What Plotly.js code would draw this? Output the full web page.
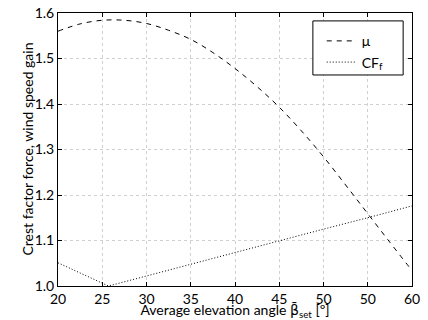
<!DOCTYPE html>
<html>
<head>
<meta charset="utf-8">
<script src="https://cdn.plot.ly/plotly-3.0.1.min.js"></script>
<style>html,body{margin:0;padding:0;background:#fff;}#chart{width:428px;height:320px;}</style>
</head>
<body>
<div id="chart"></div>
<script>
const muX = [20, 22.5, 25, 27.5, 30, 32.5, 35, 37.5, 40, 42.5, 45, 47.5, 50, 52.5, 55, 57.5, 60];
const muY = [1.560, 1.576, 1.584, 1.584, 1.577, 1.562, 1.542, 1.513, 1.478, 1.438, 1.393, 1.341, 1.284, 1.222, 1.159, 1.096, 1.034];
const cfX = [20, 25.7, 30, 35, 40, 45, 50, 55, 60];
const cfY = [1.051, 1.000, 1.022, 1.048, 1.073, 1.099, 1.125, 1.150, 1.176];
const xTickVals = [20, 25, 30, 35, 40, 45, 50, 55, 60];
const xTickText = ['20', '25', '30', '35', '40', '45', '50', '50', '60'];
const yTickVals = [1.0, 1.1, 1.2, 1.3, 1.4, 1.5, 1.6];
const yTickText = ['1.0', '1.1', '1.2', '1.3', '1.4', '1.5', '1.6'];

const fam = 'Lato, "Noto Sans", sans-serif';
const font = {family: fam, size: 14, color: '#000'};

const traces = [
  {x: muX, y: muY, mode: 'lines', name: 'μ', line: {color: '#000', width: 1, dash: '5px,5px', shape: 'spline'}},
  {x: cfX, y: cfY, mode: 'lines', name: 'CF<sub>f</sub>', line: {color: '#000', width: 1, dash: '1px,2px'}}
];

const axisCommon = {
  showline: true, linecolor: '#000', linewidth: 1, mirror: 'ticks',
  ticks: 'inside', ticklen: 4, tickcolor: '#000', tickwidth: 1,
  showgrid: true, gridcolor: '#d0d0d0', griddash: 'dot', gridwidth: 1,
  zeroline: false, tickfont: font
};

const layout = {
  width: 428, height: 320,
  margin: {l: 58, r: 16, t: 13, b: 34},
  paper_bgcolor: '#fff', plot_bgcolor: '#fff',
  font: font,
  showlegend: true,
  legend: {
    x: 0.745, y: 0.955, xanchor: 'left', yanchor: 'top',
    borderwidth: 0, bgcolor: 'rgba(0,0,0,0)',
    font: {family: fam, size: 14, color: '#000'},
    tracegroupgap: 0
  },
  shapes: [{
    type: 'rect', xref: 'paper', yref: 'paper',
    x0: 0.720, x1: 0.975, y0: 0.773, y1: 0.971,
    line: {color: '#000', width: 1}, fillcolor: '#fff', layer: 'above'
  }],
  annotations: [{
    text: 'Crest factor force, wind speed gain', textangle: -90,
    xref: 'paper', yref: 'paper', x: 0, y: 0.5, xanchor: 'center', yanchor: 'middle',
    xshift: -31, showarrow: false, font: font
  }],
  xaxis: Object.assign({}, axisCommon, {
    range: [20, 60], tickmode: 'array', tickvals: xTickVals, ticktext: xTickText,
    ticklabelstandoff: 0,
    title: {text: 'Average elevation angle <span style="font-family:DejaVu Sans">β\u0304</span><sub>set</sub> [º]', font: font, standoff: 4}
  }),
  yaxis: Object.assign({}, axisCommon, {
    range: [1.0, 1.6], tickmode: 'array', tickvals: yTickVals, ticktext: yTickText,
    ticklabelstandoff: 0
  })
};

Plotly.newPlot('chart', traces, layout, {displayModeBar: false, staticPlot: true});
</script>
</body>
</html>
